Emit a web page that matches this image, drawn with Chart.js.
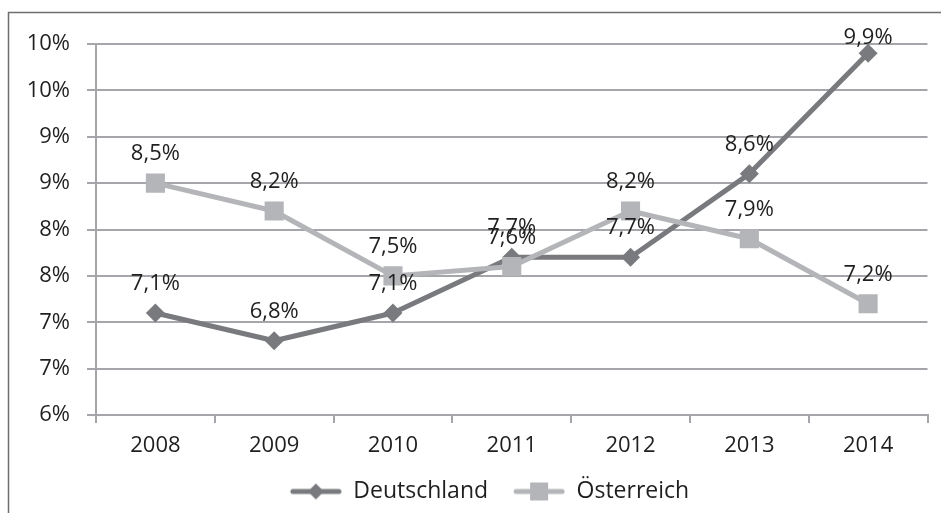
<!DOCTYPE html>
<html><head><meta charset="utf-8">
<script src="https://cdn.jsdelivr.net/npm/chart.js@4/dist/chart.umd.min.js"></script>
<style>html,body{margin:0;padding:0;background:#fff;overflow:hidden}#wrap{position:relative;width:941px;height:513px}</style>
</head><body><div id="wrap"><canvas id="c" width="941" height="513"></canvas></div>
<script>
const years = ['2008', '2009', '2010', '2011', '2012', '2013', '2014'];
const deutschland = [7.1, 6.8, 7.1, 7.7, 7.7, 8.6, 9.9];
const oesterreich = [8.5, 8.2, 7.5, 7.6, 8.2, 7.9, 7.2];
const seriesNames = ['Deutschland', 'Österreich'];
const yMin = 6, yMax = 10, yStep = 0.5;

const FONT = "'Open Sans', sans-serif";
const DARK = '#797a7e', LIGHT = '#b4b5b8', GRID = '#a5a6a9', TEXT = '#1f1f1f', FRAME = '#6e6e6e';

function legendSymbol(color, style) {
  const c = document.createElement('canvas'); c.width = 67; c.height = 22;
  const g = c.getContext('2d');
  const o = 15;
  g.strokeStyle = color; g.lineWidth = 5; g.lineCap = 'round';
  g.beginPath(); g.moveTo(o + 3, 11); g.lineTo(o + 49, 11); g.stroke();
  g.fillStyle = color;
  if (style === 'diamond') {
    g.beginPath(); g.moveTo(o + 26, 3); g.lineTo(o + 34, 11); g.lineTo(o + 26, 19); g.lineTo(o + 18, 11); g.closePath(); g.fill();
  } else {
    g.fillRect(o + 17, 2, 18, 18);
  }
  return c;
}
const symbols = [legendSymbol(DARK, 'diamond'), legendSymbol(LIGHT, 'square')];

const framePlugin = {
  id: 'frame',
  beforeDraw(chart) {
    const ctx = chart.ctx; ctx.save();
    ctx.strokeStyle = FRAME; ctx.lineWidth = 1.5;
    ctx.beginPath(); ctx.moveTo(8.5, 513); ctx.lineTo(8.5, 12.5); ctx.lineTo(941, 12.5); ctx.stroke();
    ctx.restore();
  }
};
const legendShift = {
  id: 'legendShift',
  afterLayout(chart) {
    if (chart.legend) { chart.legend.left += 10.5; chart.legend.right += 10.5; }
  }
};
const dataLabels = {
  id: 'dataLabels',
  afterDatasetsDraw(chart) {
    const ctx = chart.ctx; ctx.save();
    ctx.font = "22px 'Open Sans', sans-serif"; ctx.fillStyle = TEXT;
    ctx.textAlign = 'center'; ctx.textBaseline = 'alphabetic';
    chart.data.datasets.forEach((ds, i) => {
      const meta = chart.getDatasetMeta(i);
      meta.data.forEach((pt, j) => {
        const txt = ds.data[j].toFixed(1).replace('.', ',') + '%';
        const y = Math.max(pt.y - 23, chart.chartArea.top);
        ctx.fillText(txt, pt.x, y);
      });
    });
    ctx.restore();
  }
};

new Chart(document.getElementById('c'), {
  type: 'line',
  data: {
    labels: years,
    datasets: [
      { label: seriesNames[0], data: deutschland, borderColor: DARK, backgroundColor: DARK, borderWidth: 5,
        pointStyle: 'rectRot', pointRadius: 9.5, pointBorderWidth: 0, pointBackgroundColor: DARK,
        tension: 0, borderJoinStyle: 'round', borderCapStyle: 'round', order: 2 },
      { label: seriesNames[1], data: oesterreich, borderColor: LIGHT, backgroundColor: LIGHT, borderWidth: 5,
        pointStyle: 'rect', pointRadius: 13.5, pointBorderWidth: 0, pointBackgroundColor: LIGHT,
        tension: 0, borderJoinStyle: 'round', borderCapStyle: 'round', order: 1 }
    ]
  },
  options: {
    responsive: false, animation: false, devicePixelRatio: 1,
    layout: { padding: { left: 8, right: 6, top: 44, bottom: 0 } },
    plugins: {
      tooltip: { enabled: false },
      legend: {
        position: 'bottom', align: 'center',
        labels: {
          font: { family: FONT, size: 23 }, color: TEXT, usePointStyle: true, pointStyleWidth: 67, padding: 10,
          generateLabels(chart) {
            return chart.data.datasets.map((ds, i) => ({
              text: ds.label, pointStyle: symbols[i], fillStyle: ds.borderColor, strokeStyle: ds.borderColor,
              lineWidth: 0, hidden: false, datasetIndex: i, fontColor: TEXT
            }));
          }
        }
      }
    },
    scales: {
      x: {
        offset: true,
        grid: { offset: true, drawOnChartArea: false, drawTicks: true, tickLength: 8, color: GRID, lineWidth: 2 },
        border: { display: true, color: GRID, width: 2 },
        ticks: { font: { family: FONT, size: 22 }, color: TEXT, padding: 10, maxRotation: 0, autoSkip: false },
        afterFit(s) { s.height = 55; }
      },
      y: {
        min: yMin, max: yMax,
        ticks: { stepSize: yStep, callback: v => Math.round(v) + '%', font: { family: FONT, size: 22 }, color: TEXT, padding: 17 },
        grid: { color: GRID, lineWidth: 2, tickLength: 9, drawTicks: true },
        border: { display: true, color: GRID, width: 2 },
        afterFit(s) { s.width = 88; }
      }
    }
  },
  plugins: [framePlugin, legendShift, dataLabels]
});
</script></body></html>
